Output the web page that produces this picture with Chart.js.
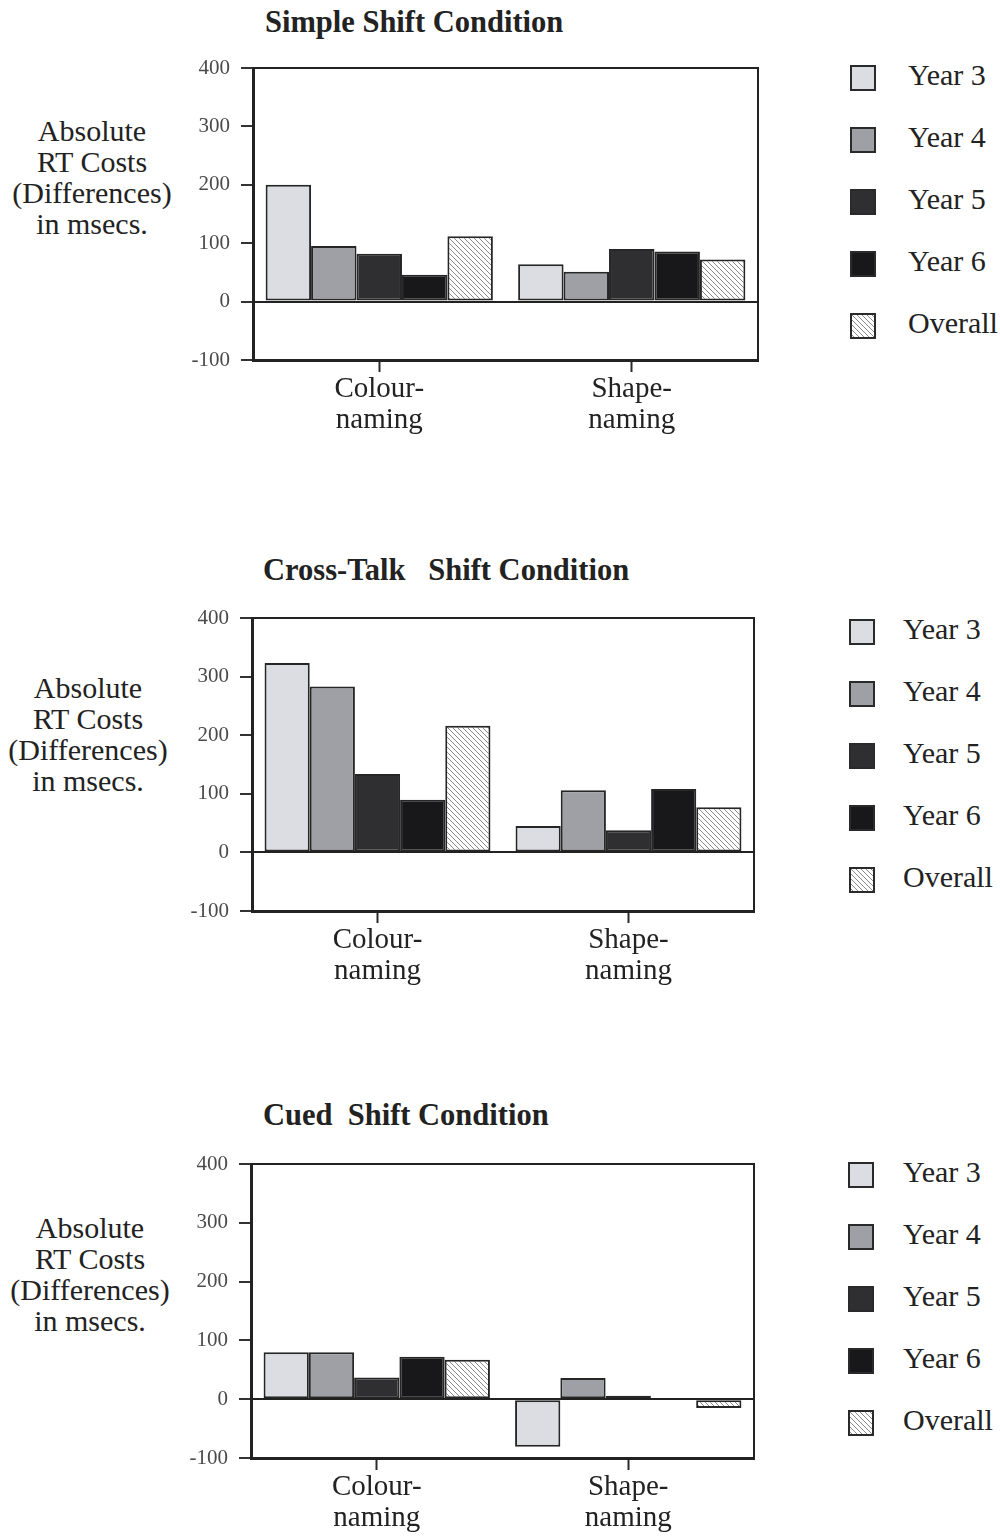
<!DOCTYPE html>
<html>
<head>
<meta charset="utf-8">
<title>Absolute RT Costs by Shift Condition</title>
<script src="https://cdn.jsdelivr.net/npm/chart.js@4/dist/chart.umd.min.js"></script>
<style>
  html, body { margin: 0; padding: 0; background: #fff; }
  body {
    position: relative; width: 1000px; height: 1539px; overflow: hidden;
    font-family: "Liberation Serif", "Times New Roman", serif; color: #222;
  }
  .abs { position: absolute; white-space: pre; font-family: "Liberation Serif", "Times New Roman", serif; color: #222; }
  .title { font-weight: bold; font-size: 30.5px; line-height: 30px; }
  .ylab { font-size: 30px; line-height: 31px; width: 200px; text-align: center; }
  .legtext { font-size: 30px; line-height: 30px; }
  .swatch { box-sizing: border-box; width: 26px; height: 26px; border: 2px solid #2a2a2a; }
  canvas.plot { position: absolute; }
</style>
</head>
<body>
<script>
// Categories, series and tick values
const categories = [['Colour-', 'naming'], ['Shape-', 'naming']];
const seriesNames = ['Year 3', 'Year 4', 'Year 5', 'Year 6', 'Overall'];
const yTicks = [-100, 0, 100, 200, 300, 400];
const yLabelLines = ['Absolute', 'RT Costs', '(Differences)', 'in msecs.'];

// Absolute RT costs (msecs), one value per series: Year 3, 4, 5, 6, Overall
const simpleColour = [200, 95, 82, 46, 112];
const simpleShape = [64, 51, 90, 86, 72];
const crossTalkColour = [323, 283, 134, 90, 216];
const crossTalkShape = [45, 106, 38, 108, 77];
const cuedColour = [80, 80, 37, 72, 67];
const cuedShape = [-81, 36, 6, 1, -15];

// Diagonal hatch used for the "Overall" series
function makeHatch() {
  const c = document.createElement('canvas');
  c.width = 5; c.height = 5;
  const g = c.getContext('2d');
  g.fillStyle = '#ffffff';
  g.fillRect(0, 0, 5, 5);
  g.strokeStyle = '#8a8a8a';
  g.lineWidth = 1;
  g.beginPath();
  g.moveTo(-1, -1); g.lineTo(6, 6);
  g.moveTo(-1, 4); g.lineTo(1, 6);
  g.moveTo(4, -1); g.lineTo(6, 1);
  g.stroke();
  return c;
}
const hatchCanvas = makeHatch();
const hatchPattern = hatchCanvas.getContext('2d').createPattern(hatchCanvas, 'repeat');
const seriesFills = ['#dcdde2', '#9fa0a5', '#2f2f31', '#18181a', hatchPattern];
const swatchFills = ['#dcdde2', '#9fa0a5', '#2f2f31', '#18181a',
  'url(' + hatchCanvas.toDataURL() + ')'];

const panels = [
  { title: 'Simple Shift Condition', colour: simpleColour, shape: simpleShape,
    plot: { l: 253, r: 758, t: 68, b: 360 },
    titleAt: { x: 265, top: 6.5 }, labelAt: { cx: 92, top: 114.5 },
    legend: { sx: 850, tx: 908, cy: 77.5 } },
  { title: 'Cross-Talk   Shift Condition', colour: crossTalkColour, shape: crossTalkShape,
    plot: { l: 252, r: 754, t: 618, b: 911 },
    titleAt: { x: 263, top: 555 }, labelAt: { cx: 88, top: 671.5 },
    legend: { sx: 849, tx: 903, cy: 632 } },
  { title: 'Cued  Shift Condition', colour: cuedColour, shape: cuedShape,
    plot: { l: 251, r: 754, t: 1164, b: 1458 },
    titleAt: { x: 263, top: 1100 }, labelAt: { cx: 90, top: 1211.5 },
    legend: { sx: 848, tx: 903, cy: 1175 } }
];

const Y_W = 83, PAD_T = 14, PAD_R = 12, X_H = 80, PAD_B = 4;
const FONT = '"Liberation Serif", "Times New Roman", serif';

// Top and right edges of the plot frame
const framePlugin = {
  id: 'frame',
  afterDatasetsDraw(chart) {
    const a = chart.chartArea, ctx = chart.ctx;
    ctx.save();
    ctx.strokeStyle = '#222';
    ctx.lineWidth = 2;
    ctx.beginPath();
    ctx.moveTo(a.left, a.top);
    ctx.lineTo(a.right, a.top);
    ctx.lineTo(a.right, a.bottom);
    ctx.stroke();
    ctx.restore();
  }
};

function addDiv(cls, text, left, top) {
  const d = document.createElement('div');
  d.className = 'abs ' + cls;
  d.textContent = text;
  d.style.left = left + 'px';
  d.style.top = top + 'px';
  document.body.appendChild(d);
  return d;
}

function buildChart(cv, p) {
  return new Chart(cv, {
    type: 'bar',
    data: {
      labels: categories,
      datasets: seriesNames.map((name, i) => ({
        label: name,
        data: [p.colour[i], p.shape[i]],
        backgroundColor: seriesFills[i],
        borderColor: '#262626',
        borderWidth: 2,
        borderSkipped: false,
        categoryPercentage: 0.9,
        barPercentage: 1.0
      }))
    },
    options: {
      responsive: false,
      maintainAspectRatio: false,
      animation: false,
      devicePixelRatio: 1,
      layout: { padding: { left: 0, top: PAD_T, right: PAD_R, bottom: PAD_B } },
      plugins: { legend: { display: false }, tooltip: { enabled: false }, title: { display: false } },
      scales: {
        x: {
          grid: { offset: false, drawOnChartArea: false, drawTicks: true,
                  tickLength: 12, tickWidth: 2, tickColor: '#2a2a2a' },
          border: { display: true, color: '#222', width: 3 },
          ticks: { font: { family: FONT, size: 29, lineHeight: 31 / 29 }, color: '#222',
                   padding: 2, maxRotation: 0, autoSkip: false },
          afterFit(s) { s.height = X_H; }
        },
        y: {
          min: yTicks[0],
          max: yTicks[yTicks.length - 1],
          afterBuildTicks(s) { s.ticks = yTicks.map(v => ({ value: v })); },
          ticks: { font: { family: FONT, size: 21 }, color: '#4a4a4a', padding: 11 },
          grid: {
            drawOnChartArea: true, drawTicks: true,
            color: c => (c.tick && c.tick.value === 0) ? '#222' : 'rgba(0,0,0,0)',
            lineWidth: 2, tickLength: 12, tickWidth: 2, tickColor: '#333'
          },
          border: { display: true, color: '#222', width: 3 },
          afterFit(s) { s.width = Y_W; s.paddingTop = 0; s.paddingBottom = 0; }
        }
      }
    },
    plugins: [framePlugin]
  });
}

panels.forEach(p => {
  addDiv('title', p.title, p.titleAt.x, p.titleAt.top);
  addDiv('ylab', yLabelLines.join('\n'), p.labelAt.cx - 100, p.labelAt.top);

  seriesNames.forEach((name, i) => {
    const cy = p.legend.cy + i * 62;
    const sw = addDiv('swatch', '', p.legend.sx, cy - 13);
    sw.style.background = swatchFills[i];
    addDiv('legtext', name, p.legend.tx, cy + 7.5 - 25.1);
  });

  const plotW = p.plot.r - p.plot.l, plotH = p.plot.b - p.plot.t;
  const cv = document.createElement('canvas');
  cv.className = 'plot';
  document.body.appendChild(cv);
  const place = (extraTop) => {
    cv.width = plotW + Y_W + PAD_R;
    cv.height = plotH + PAD_T + X_H + PAD_B + extraTop;
    cv.style.left = (p.plot.l - Y_W) + 'px';
    cv.style.top = (p.plot.t - PAD_T - extraTop) + 'px';
    cv.style.width = cv.width + 'px';
    cv.style.height = cv.height + 'px';
  };
  place(0);
  let chart = buildChart(cv, p);

  // If the layout reserved more room above the frame than PAD_T, grow the
  // canvas upward by that amount so the frame keeps its intended position.
  const extra = Math.round(chart.chartArea.top - PAD_T);
  if (extra > 0) {
    chart.destroy();
    place(extra);
    chart = buildChart(cv, p);
  }
});
</script>
</body>
</html>
